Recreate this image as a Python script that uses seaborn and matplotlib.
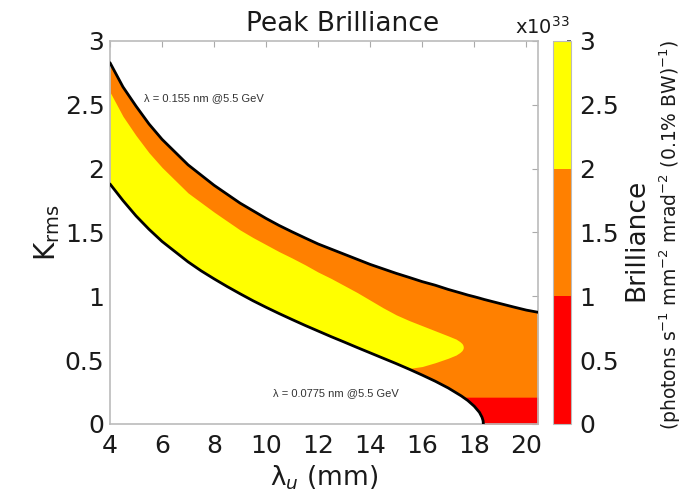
import numpy as np
import pandas as pd
import matplotlib
matplotlib.use('Agg')
from matplotlib import pyplot as plt
from matplotlib.colors import ListedColormap, BoundaryNorm
import matplotlib.cm as cm
import seaborn as sns

# Undulator period (mm) and the two resonance curves
lam_u = [4, 4.5, 5, 5.5, 6, 6.5, 7, 7.5, 8, 8.5, 9, 9.5, 10, 10.5, 11, 11.5, 12, 12.5, 13, 13.5,
         14, 14.5, 15, 15.5, 16, 16.5, 17, 17.5, 17.75, 18, 18.2, 18.3, 18.34, 18.35, 19, 19.5, 20, 20.45]
k_upper = [2.83, 2.64, 2.49, 2.35, 2.23, 2.13, 2.03, 1.95, 1.87, 1.80, 1.73, 1.67, 1.61, 1.555, 1.505,
           1.457, 1.41, 1.37, 1.33, 1.29, 1.25, 1.215, 1.18, 1.148, 1.115, 1.087, 1.054, 1.025, 1.01,
           0.997, 0.986, 0.98, 0.978, 0.977, 0.943, 0.917, 0.892, 0.875]
k_lower = [1.88, 1.75, 1.63, 1.525, 1.43, 1.35, 1.27, 1.20, 1.137, 1.077, 1.02, 0.965, 0.914, 0.865,
           0.818, 0.772, 0.728, 0.684, 0.642, 0.599, 0.557, 0.515, 0.473, 0.429, 0.383, 0.335, 0.282,
           0.22, 0.184, 0.139, 0.091, 0.052, 0.025, 0.0, np.nan, np.nan, np.nan, np.nan]

# Yellow band (brilliance 2-3 x10^33)
yel_x = [4, 4.5, 5, 5.5, 6, 6.5, 7, 7.5, 8, 8.5, 9, 9.5, 10, 10.5, 11, 11.5, 12, 12.5, 13, 13.5,
         14, 14.5, 15, 15.5, 16, 16.5, 17, 17.3, 17.45, 17.53, 17.57, 17.58]
yel_top = [2.60, 2.41, 2.26, 2.125, 2.01, 1.91, 1.81, 1.735, 1.66, 1.59, 1.52, 1.46, 1.405, 1.35, 1.30,
           1.247, 1.19, 1.14, 1.085, 1.03, 0.97, 0.91, 0.855, 0.81, 0.77, 0.73, 0.69, 0.665, 0.645,
           0.63, 0.615, 0.60]
yel_bot = [1.88, 1.75, 1.63, 1.525, 1.43, 1.35, 1.27, 1.20, 1.137, 1.077, 1.02, 0.965, 0.914, 0.865,
           0.818, 0.772, 0.728, 0.684, 0.642, 0.599, 0.557, 0.515, 0.473, 0.435, 0.45, 0.48, 0.515,
           0.54, 0.56, 0.575, 0.59, 0.60]

# Red patch (brilliance 0-1 x10^33), left edge follows the lower curve
red_k = [0, 0.025, 0.05, 0.1, 0.15, 0.21]
red_left = [18.35, 18.34, 18.3, 18.17, 17.95, 17.6]

levels = [0, 1, 2, 3]
level_colors = ['#ff0000', '#ff8000', '#ffff00']
cbar_ticks = [0, 0.5, 1, 1.5, 2, 2.5, 3]
tick_labels = ['0', '0.5', '1', '1.5', '2', '2.5', '3']
x_ticks = [4, 6, 8, 10, 12, 14, 16, 18, 20]

curves = pd.DataFrame({'lam_u': lam_u, 'k_upper': k_upper, 'k_lower': k_lower})

sns.set_theme(style='white')
plt.rcParams['font.family'] = ['DejaVu Sans']

fig = plt.figure(figsize=(6.9, 4.91), dpi=100)
ax = fig.add_axes([0.1594, 0.1365, 0.6203, 0.78])
cax = fig.add_axes([0.8014, 0.1365, 0.0261, 0.78])

xmax = lam_u[-1]
ax.fill_between(curves['lam_u'], curves['k_lower'].fillna(0), curves['k_upper'],
                color=level_colors[1], linewidth=0, zorder=1)
ax.fill_between(yel_x, yel_bot, yel_top, color=level_colors[2], linewidth=0, zorder=2)
ax.fill_betweenx(red_k, red_left, xmax, color=level_colors[0], linewidth=0, zorder=2)

sns.lineplot(data=curves, x='lam_u', y='k_upper', color='black', linewidth=2, ax=ax, zorder=3)
sns.lineplot(data=curves.dropna(), x='lam_u', y='k_lower', color='black', linewidth=2, ax=ax, zorder=3)

ax.text(5.3, 2.55, 'λ = 0.155 nm @5.5 GeV', fontsize=8, family='Liberation Sans', color='#333333', va='center')
ax.text(10.25, 0.24, 'λ = 0.0775 nm @5.5 GeV', fontsize=8, family='Liberation Sans', color='#333333', va='center')

ax.set_xlim(4, xmax)
ax.set_ylim(0, 3)
ax.set_xticks(x_ticks)
ax.set_xticklabels([str(t) for t in x_ticks])
ax.set_yticks(cbar_ticks)
ax.set_yticklabels(tick_labels)
ax.tick_params(direction='in', length=4, width=0.8, color='#aaaaaa', labelsize=18,
               top=True, right=True, pad=4, labelcolor='#1a1a1a')
ax.tick_params(axis='x', pad=7)
for s in ax.spines.values():
    s.set_color('#bbbbbb')
    s.set_linewidth(1.2)
ax.set_xlabel('λ$_{u}$ (mm)', fontsize=19, color='#1a1a1a', labelpad=4)
ax.set_ylabel('K$_\\mathregular{rms}$', fontsize=20, color='#1a1a1a', labelpad=2)

cmap = ListedColormap(level_colors)
norm = BoundaryNorm(levels, cmap.N)
sm = cm.ScalarMappable(norm=norm, cmap=cmap)
cb = fig.colorbar(sm, cax=cax, ticks=cbar_ticks)
cb.ax.set_yticklabels(tick_labels)
cb.ax.tick_params(direction='in', length=3, color='#555555', labelsize=18, pad=6, labelcolor='#1a1a1a')
cb.outline.set_edgecolor('#bbbbbb')
cb.outline.set_linewidth(0.8)

fig.text(0.497, 0.951, 'Peak Brilliance', fontsize=19, ha='center', va='center', color='#1a1a1a')
fig.text(0.826, 0.945, 'x10$^{33}$', fontsize=14, ha='right', va='center', color='#1a1a1a')
fig.text(0.923, 0.511, 'Brilliance', fontsize=19, rotation=90, ha='center', va='center', color='#1a1a1a')
fig.text(0.972, 0.521, '(photons s$^{-1}$ mm$^{-2}$ mrad$^{-2}$ (0.1% BW)$^{-1}$)', fontsize=13.5,
         rotation=90, ha='center', va='center', color='#1a1a1a')

fig.savefig('out.png', dpi=100)
